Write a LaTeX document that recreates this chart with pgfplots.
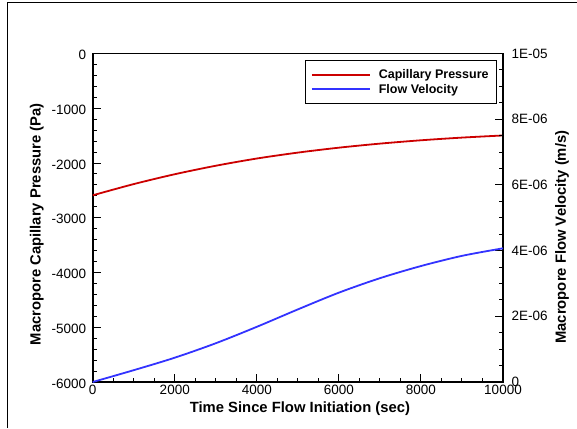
\documentclass[border=0pt]{standalone}
\usepackage{pgfplots}
\pgfplotsset{compat=1.18}
\usepackage{fontspec}
\setmainfont{Liberation Sans}
\definecolor{cpred}{RGB}{204,0,0}
\definecolor{fvblue}{RGB}{51,51,255}
\pgfplotstableread{
t p
0 -2590
1000 -2385
2000 -2205
3000 -2050
4000 -1918
5000 -1810
6000 -1720
7000 -1646
8000 -1585
9000 -1536
10000 -1497
}\pressure
\pgfplotstableread{
t v
0 0
1000 0.36e-6
2000 0.74e-6
3000 1.18e-6
4000 1.68e-6
5000 2.21e-6
6000 2.72e-6
7000 3.16e-6
8000 3.53e-6
9000 3.84e-6
10000 4.07e-6
}\velocity
\pgfplotsset{
  common/.style={
    at={(92.7pt,46pt)}, anchor=south west,
    scale only axis, width=410.3pt, height=328.5pt,
    xmin=0, xmax=10000,
    tick align=inside,
    major tick length=8pt, minor tick length=4.5pt,
    axis line style={line width=1.6pt},
    every tick/.style={black, line width=1pt},
    ticklabel style={font=\fontsize{13.5}{16}\selectfont},
    /pgf/number format/assume math mode=true,
    /pgf/number format/set thousands separator={},
    scaled ticks=false,
    label style={font=\bfseries\fontsize{14.8}{17}\selectfont},
  }
}
\begin{document}
\begin{tikzpicture}
\useasboundingbox (0pt,0pt) rectangle (577pt,428pt);
\draw[line width=1pt] (7.5pt,0pt) -- (7.5pt,425pt) -- (577pt,425pt);
\begin{axis}[
  common,
  ymin=-6000, ymax=0,
  xtick={0,2000,...,10000}, ytick={-6000,-5000,...,0},
  minor x tick num=3, minor y tick num=4,
  xtick pos=left, ytick pos=left,
  yticklabel style={xshift=-3pt, yshift=-1.5pt},
  xlabel={Time Since Flow Initiation (sec)},
  ylabel={Macropore Capillary Pressure (Pa)},
  xlabel style={at={(axis description cs:0.505,-0.082)}, anchor=center},
  ylabel style={at={(axis description cs:-0.1365,0.48)}, anchor=center},
  legend style={at={(1,1)}, anchor=north east, xshift=-6pt, yshift=-6.5pt,
    draw=black, line width=0.8pt, fill=white,
    font=\bfseries\fontsize{12.5}{15}\selectfont,
    inner ysep=7pt, inner xsep=6pt,
    /tikz/every odd column/.append style={column sep=6pt}},
  legend cell align=left,
  legend image code/.code={\draw[#1] (0pt,0pt) -- (58pt,0pt);},
]
\addplot[cpred, line width=1.8pt, smooth] table[x=t,y=p] {\pressure};
\addlegendentry{Capillary Pressure}
\addlegendimage{fvblue, line width=1.8pt}
\addlegendentry{Flow Velocity}
\end{axis}
\begin{axis}[
  common,
  ymin=0, ymax=1e-5,
  axis x line=none, axis y line*=right,
  ytick={0,2e-6,4e-6,6e-6,8e-6,1e-5},
  yticklabels={0,2E-06,4E-06,6E-06,8E-06,1E-05},
  yticklabel style={xshift=5pt},
  minor y tick num=3,
  ylabel={Macropore Flow Velocity (m/s)},
  ylabel style={at={(axis description cs:1.144,0.441)}, anchor=center},
]
\addplot[fvblue, line width=1.8pt, smooth] table[x=t,y=v] {\velocity};
\end{axis}
\end{tikzpicture}
\end{document}
